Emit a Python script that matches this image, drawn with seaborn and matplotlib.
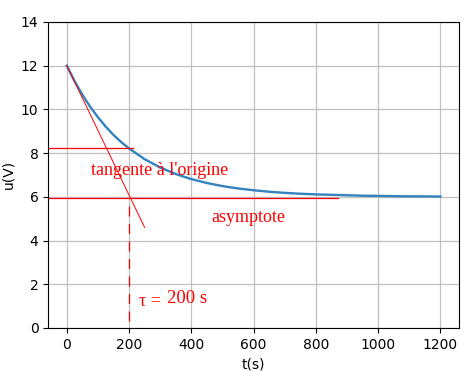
import numpy as np
import pandas as pd
import matplotlib
matplotlib.use('Agg')
import matplotlib.pyplot as plt
import seaborn as sns

# capacitor discharge
t = [0, 25, 50, 75, 100, 125, 150, 175, 200, 250, 300, 350, 400, 450, 500,
     550, 600, 650, 700, 750, 800, 850, 900, 950, 1000, 1050, 1100, 1150, 1200]
u = [12.00, 11.29, 10.67, 10.12, 9.64, 9.21, 8.83, 8.50, 8.21, 7.72, 7.34,
     7.04, 6.81, 6.63, 6.49, 6.38, 6.30, 6.23, 6.18, 6.14, 6.11, 6.09, 6.07,
     6.05, 6.04, 6.03, 6.02, 6.02, 6.01]

# hand-drawn construction lines
tangent_t = [0, 250]
tangent_u = [12.0, 4.6]
u_tau = 8.23
asym_u = 5.95
tau = 200

df = pd.DataFrame({'t': t, 'u': u})

fig = plt.figure(figsize=(4.67, 3.71), dpi=100)
ax = fig.add_axes([0.103, 0.116, 0.880, 0.825])

sns.lineplot(data=df, x='t', y='u', ax=ax, color='#3283be', linewidth=1.7)
ax.set_xlim(-60, 1260)
ax.set_ylim(0, 14)
ax.grid(True, color='#c0c0c0', linewidth=0.9)
ax.set_xlabel('t(s)')
ax.set_ylabel('u(V)')

red = '#ff0000'
ax.plot(tangent_t, tangent_u, color=red, linewidth=0.7)
ax.plot([-60, 213], [u_tau, u_tau], color=red, linewidth=0.9)
ax.plot([-60, 870], [asym_u, asym_u], color=red, linewidth=0.9)
ax.plot([tau, tau], [0.3, 5.9], color=red, linewidth=0.9, dashes=(8, 6))

serif = ['Liberation Serif', 'DejaVu Serif']
ax.text(77, 7.2, "tangente à l'origine", color=red, fontsize=13,
        family=serif, va='center')
ax.text(465, 5.05, 'asymptote', color=red, fontsize=13,
        family=serif, va='center')
ax.text(232, 1.2, 'τ =', color=red, fontsize=13,
        family=serif, va='center')
ax.text(322, 1.35, '200 s', color=red, fontsize=13.5,
        family=serif, va='center')

fig.savefig('out.png', dpi=100)
